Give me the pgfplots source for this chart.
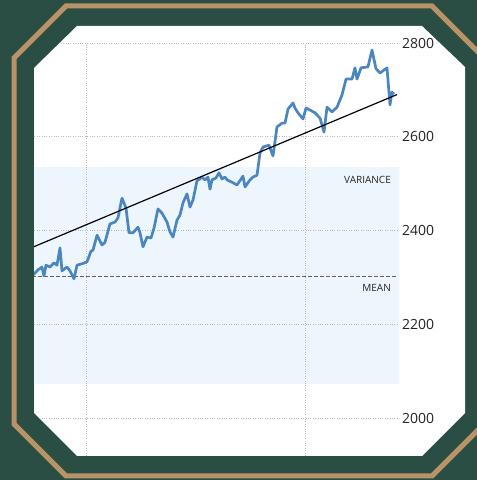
\documentclass[border=0pt]{standalone}
\usepackage{pgfplots}
\pgfplotsset{compat=1.18}
\usepackage{fontspec}
\setmainfont{Open Sans}

\definecolor{bggreen}{RGB}{42,78,67}
\definecolor{frametan}{RGB}{185,147,104}
\definecolor{bandblue}{RGB}{238,246,253}
\definecolor{lineblue}{RGB}{74,134,192}
\definecolor{labelgray}{RGB}{35,35,35}

\pgfplotsset{
  panel/.style={
    at={(20pt,22.16pt)}, anchor=south west,
    scale only axis,
    width=377pt, height=414.84pt,
    xmin=20, xmax=397,
    ymin=1915, ymax=2800,
  }
}

\begin{document}
\begin{tikzpicture}
% page and frame
\fill[bggreen] (0,0) rectangle (477pt,480pt);
\begin{scope}
\clip (0,0) rectangle (477pt,480pt);
\draw[frametan, line width=5pt]
  (66pt,474pt) -- (432pt,474pt) -- (484pt,422pt) -- (484pt,56pt) --
  (432pt,4pt) -- (66pt,4pt) -- (14pt,56pt) -- (14pt,422pt) -- cycle;
\end{scope}
\fill[white]
  (77pt,454pt) -- (422pt,454pt) -- (465pt,413pt) -- (465pt,67pt) --
  (422pt,24pt) -- (77pt,24pt) -- (34pt,67pt) -- (34pt,412pt) -- cycle;

\begin{scope}
\clip (77pt,454pt) -- (436pt,454pt) -- (465pt,425pt) -- (465pt,67pt) --
  (422pt,24pt) -- (77pt,24pt) -- (34pt,67pt) -- (34pt,412pt) -- cycle;
% variance band underneath the grid
\begin{axis}[panel, hide axis, clip=false]
\addplot[draw=none, fill=bandblue]
  coordinates {(20,2072) (399,2072) (399,2535) (20,2535) (20,2072)};
\end{axis}
\begin{axis}[
    panel,
    xtick={86,305}, xticklabels={},
    ytick={2000,2200,2400,2600,2800},
    yticklabel pos=right,
    scaled y ticks=false,
    /pgf/number format/1000 sep={},
    /pgf/number format/assume math mode=true,
    yticklabel style={anchor=west, inner sep=0pt, xshift=5pt,
      font=\fontsize{14}{16}\selectfont, text=labelgray},
    axis line style={draw=none},
    major tick length=0pt,
    xmajorgrids, ymajorgrids,
    grid style={dotted, color=gray!55, line width=0.8pt},
]
% mean
\addplot[gray!75!black, line width=0.9pt, dash pattern=on 4pt off 2pt]
  coordinates {(20,2302) (397,2302)};
% series
\addplot[lineblue, line width=2.7pt, line join=round] table {
28 2298
33 2305
38 2316
42 2322
44 2303
46 2326
50 2322
54 2331
57 2326
60 2363
62 2314
67 2322
70 2314
74 2297
77 2326
82 2329
87 2333
91 2356
93 2358
97 2390
102 2369
105 2375
110 2414
115 2418
118 2427
122 2469
126 2448
129 2395
133 2395
138 2407
140 2395
143 2365
147 2386
151 2384
154 2405
158 2446
162 2437
167 2418
170 2397
173 2386
177 2422
180 2433
183 2459
187 2478
190 2450
193 2465
197 2506
200 2510
202 2514
205 2508
208 2514
210 2488
212 2508
216 2512
219 2523
222 2510
225 2514
227 2508
232 2503
237 2497
243 2516
245 2493
250 2508
253 2514
257 2518
260 2565
263 2578
269 2582
273 2559
277 2621
282 2629
285 2629
288 2659
293 2672
295 2661
298 2651
303 2638
306 2661
310 2657
315 2651
320 2640
324 2610
327 2663
332 2653
337 2663
342 2689
346 2723
352 2723
355 2747
357 2723
361 2747
368 2749
372 2785
376 2745
380 2736
387 2747
390 2668
392 2695
394 2691
};
% trend
\addplot[black, line width=1.2pt] coordinates {(20,2353) (397,2690)};
\node[anchor=east, inner sep=0pt, font=\fontsize{10}{12}\selectfont, text=labelgray]
  at (axis cs:391,2508) {VARIANCE};
\node[anchor=east, inner sep=0pt, font=\fontsize{10}{12}\selectfont, text=labelgray]
  at (axis cs:391,2277) {MEAN};
\end{axis}
\end{scope}
\pgfresetboundingbox
\useasboundingbox (0,0) rectangle (477pt,480pt);
\end{tikzpicture}
\end{document}
